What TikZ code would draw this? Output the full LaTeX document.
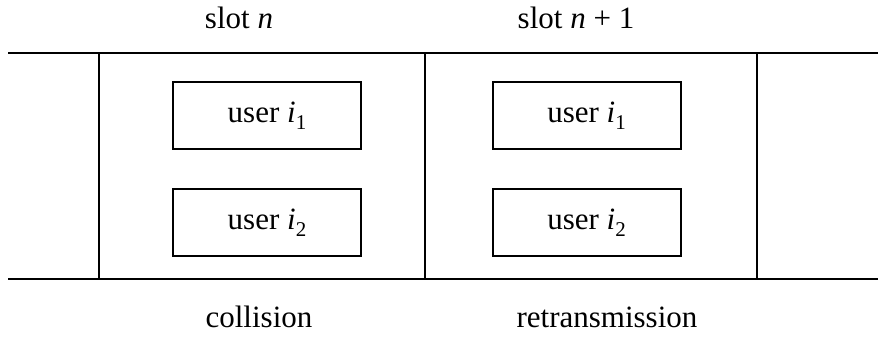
\documentclass[tikz,border=0pt]{standalone}
\usepackage{fontspec}
\setmainfont{Liberation Serif}
\newcommand{\mysub}[1]{\raisebox{-0.22em}{\fontsize{21}{21}\selectfont #1}}
\begin{document}
\begin{tikzpicture}[x=1pt,y=-1pt,
  line/.style={line width=2pt,black},
  userbox/.style={draw,line width=2pt,minimum width=188pt,minimum height=67pt,inner sep=0pt,font=\fontsize{31}{37}\selectfont},
  lbl/.style={anchor=base,inner sep=0pt,font=\fontsize{31}{37}\selectfont}]
\useasboundingbox (0,0) rectangle (878,337);
% frame lines
\coordinate (tl) at (8,53);
\coordinate (tr) at (878,53);
\coordinate (bl) at (8,279);
\coordinate (br) at (878,279);
\draw[line] (tl) -- (tr);
\draw[line] (bl) -- (br);
\draw[line] (99,53) -- (99,279);
\draw[line] (425,53) -- (425,279);
\draw[line] (757,53) -- (757,279);
% boxes
\node[userbox] (a1) at (267,115.5) {user \textit{i}\mysub{1}};
\node[userbox] (a2) at (267,222.5) {user \textit{i}\mysub{2}};
\node[userbox] (b1) at (586.5,115.5) {user \textit{i}\mysub{1}};
\node[userbox] (b2) at (586.5,222.5) {user \textit{i}\mysub{2}};
% labels
\node[lbl] (s1) at (239,29) {slot \textit{n}};
\node[lbl] (s2) at (576,29) {slot \textit{n} + 1};
\node[lbl] (c1) at (259,327) {collision};
\node[lbl] (c2) at (607,327) {retransmission};
\end{tikzpicture}
\end{document}
